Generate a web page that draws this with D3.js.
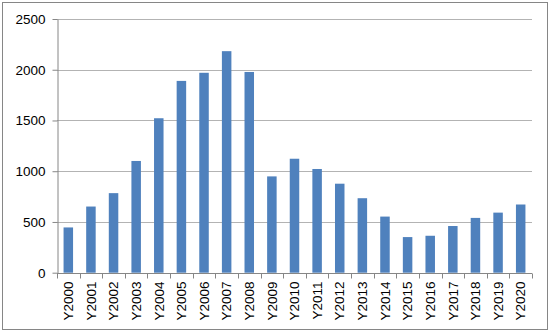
<!DOCTYPE html>
<html>
<head>
<meta charset="utf-8">
<script src="https://cdn.jsdelivr.net/npm/d3@7"></script>
<style>
  body { margin: 0; background: #fff; }
  svg text { font-family: "Liberation Sans", Arial, sans-serif; font-size: 13.5px; fill: #000; }
</style>
</head>
<body>
<div id="chart"></div>
<script>
const years = ['Y2000', 'Y2001', 'Y2002', 'Y2003', 'Y2004', 'Y2005', 'Y2006', 'Y2007', 'Y2008', 'Y2009', 'Y2010',
    'Y2011', 'Y2012', 'Y2013', 'Y2014', 'Y2015', 'Y2016', 'Y2017', 'Y2018', 'Y2019', 'Y2020'];
const values = [446, 652, 784, 1101, 1522, 1890, 1970, 2183, 1978, 949, 1123,
    1022, 877, 734, 553, 351, 364, 460, 540, 592, 672];
const yTicks = [0, 500, 1000, 1500, 2000, 2500];

const svg = d3.select('#chart').append('svg').attr('width', 550).attr('height', 332);

// outer chart border
svg.append('rect')
    .attr('x', 2.5).attr('y', 2.5)
    .attr('width', 545).attr('height', 327)
    .attr('fill', 'none')
    .attr('stroke', '#868686');

const margin = { top: 19, right: 18, bottom: 60, left: 57 },
    width = 550 - margin.left - margin.right,
    height = 332 - margin.top - margin.bottom + 0.7;

const g = svg.append('g').attr('transform', `translate(${margin.left},${margin.top})`);

const x = d3.scaleBand().domain(years).range([0, width]).paddingInner(0.58).paddingOuter(0.29);
const y = d3.scaleLinear().domain([0, 2500]).range([height, 0]);

// gridlines
g.selectAll('.grid')
    .data(yTicks.filter(d => d > 0))
    .enter().append('line')
    .attr('x1', 0).attr('x2', width)
    .attr('y1', d => Math.round(y(d)) + 0.5)
    .attr('y2', d => Math.round(y(d)) + 0.5)
    .attr('stroke', '#b3b3b3')
    .attr('stroke-width', 1);

// bars
g.selectAll('.bar')
    .data(values)
    .enter().append('rect')
    .attr('x', (d, i) => x(years[i]))
    .attr('y', d => y(d))
    .attr('width', x.bandwidth())
    .attr('height', d => height - y(d))
    .attr('fill', '#4f81bd');

// y axis
const yAxis = g.append('g')
    .attr('transform', 'translate(0.5,0)')
    .call(d3.axisLeft(y).tickValues(yTicks).tickFormat(d3.format('d')).tickSize(5).tickSizeOuter(0).tickPadding(7));
yAxis.select('.domain').attr('stroke', '#868686');
yAxis.selectAll('.tick line').attr('stroke', '#868686');
yAxis.selectAll('text').style('font-size', '13.5px').attr('fill', '#000');

// x axis with ticks on category boundaries
const xAxis = g.append('g').attr('transform', `translate(0,${Math.round(height) + 0.5})`);
xAxis.append('line')
    .attr('x1', 0).attr('x2', width)
    .attr('stroke', '#868686');
const step = x.step();
xAxis.selectAll('.sep')
    .data(d3.range(years.length + 1))
    .enter().append('line')
    .attr('x1', i => Math.round(i * step) + 0.5)
    .attr('x2', i => Math.round(i * step) + 0.5)
    .attr('y1', 0).attr('y2', 5)
    .attr('stroke', '#868686');

xAxis.selectAll('.lbl')
    .data(years)
    .enter().append('text')
    .attr('transform', d => `translate(${x(d) + x.bandwidth() / 2},8) rotate(-90)`)
    .attr('text-anchor', 'end')
    .attr('dy', '0.35em')
    .text(d => d);
</script>
</body>
</html>
